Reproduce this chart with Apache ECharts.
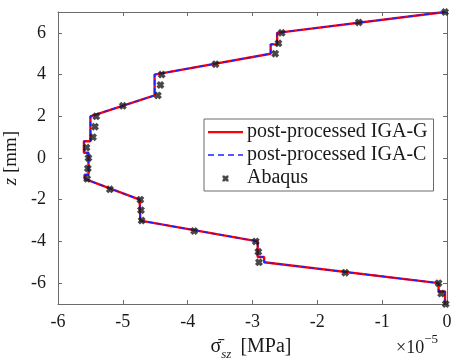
<!DOCTYPE html>
<html>
<head>
<meta charset="utf-8">
<script src="https://cdn.jsdelivr.net/npm/echarts@6/dist/echarts.min.js"></script>
<style>html,body{margin:0;padding:0;background:#fff}#c{width:454px;height:359px}</style>
</head>
<body>
<div id="c"></div>
<script>
// z positions (mm) of the IGA profile vertices
const zIGA = [7, 6, 5.45, 5.45, 5, 4, 3, 2, 0.8, 0.8, 0.25, 0.25, -0.8, -0.8, -1, -2, -3, -4, -4.75, -4.75, -5, -6, -6.4, -6.4, -7];
// sigma_sz (x 1e-5 MPa) post-processed IGA-G
const sigmaIGAG = [-0.03, -2.62, -2.62, -2.72, -2.72, -4.51, -4.51, -5.50, -5.50, -5.60, -5.60, -5.53, -5.53, -5.59, -5.59, -4.74, -4.73, -2.92, -2.92, -2.82, -2.82, -0.13, -0.13, -0.03, -0.03];
// sigma_sz (x 1e-5 MPa) post-processed IGA-C
const sigmaIGAC = [-0.03, -2.62, -2.62, -2.72, -2.72, -4.51, -4.51, -5.50, -5.50, -5.60, -5.60, -5.53, -5.53, -5.59, -5.59, -4.74, -4.73, -2.92, -2.92, -2.82, -2.82, -0.13, -0.13, -0.03, -0.03];
// Abaqus points
const zAbaqus = [7, 6.5, 6, 5.5, 5, 4.5, 4, 3.5, 3, 2.5, 2, 1.5, 1, 0.5, 0, -0.5, -1, -1.5, -2, -2.5, -3, -3.5, -4, -4.5, -5, -5.5, -6, -6.5, -7];
const sigmaAbaqus = [-0.03, -1.36, -2.55, -2.60, -2.65, -3.57, -4.40, -4.42, -4.46, -5.00, -5.41, -5.43, -5.46, -5.56, -5.53, -5.54, -5.55, -5.20, -4.73, -4.72, -4.71, -3.90, -2.95, -2.91, -2.90, -1.57, -0.13, -0.09, -0.02];
const yTicks = [-6, -4, -2, 0, 2, 4, 6];
const seriesNames = ['post-processed IGA-G', 'post-processed IGA-C', 'Abaqus'];

const pair = (xs, ys) => xs.map((x, i) => [x, ys[i]]);
const FONT = 'Liberation Serif';
const xMark = 'path://M3,0 L5,2 L7,0 L10,3 L8,5 L10,7 L7,10 L5,8 L3,10 L0,7 L2,5 L0,3 Z';
const solidIcon = 'path://M0,0L35,0Z M0,14L35,14Z M0,6h35v2.2h-35Z';
const dashIcon = 'path://M0,0L35,0Z M0,14L35,14Z M0,6.2h6v1.6h-6Z M10,6.2h6v1.6h-6Z M20,6.2h6v1.6h-6Z M30,6.2h5v1.6h-5Z';
const markIcon = 'path://M0,0L35,0Z M0,14L35,14Z M14.5,4.5 L16.5,4.5 L17.5,5.5 L18.5,4.5 L20.5,4.5 L20.5,6.5 L19.5,7.5 L20.5,8.5 L20.5,10.5 L18.5,10.5 L17.5,9.5 L16.5,10.5 L14.5,10.5 L14.5,8.5 L15.5,7.5 L14.5,6.5 Z';
const axisCol = '#6b6b6b';
const txtCol = '#1a1a1a';

const chart = echarts.init(document.getElementById('c'), null, {renderer: 'canvas'});
const baseAxis = {
  axisLine: {show: true, onZero: false, lineStyle: {color: axisCol, width: 1}},
  axisTick: {show: true, inside: true, length: 4, lineStyle: {color: axisCol, width: 1}},
  splitLine: {show: false}
};
chart.setOption({
  animation: false,
  backgroundColor: '#fff',
  grid: {left: 58, top: 12, right: 7, bottom: 55, containLabel: false, outerBoundsMode: 'none'},
  xAxis: [
    Object.assign({}, baseAxis, {
      type: 'value', min: -6, max: 0, interval: 1, position: 'bottom',
      axisLabel: {color: txtCol, fontFamily: FONT, fontSize: 18, margin: 9,
        formatter: v => (v < 0 ? '-' + Math.abs(v) : String(v))}
    }),
    Object.assign({}, baseAxis, {
      type: 'value', min: -6, max: 0, interval: 1, position: 'top',
      axisLabel: {show: false}
    })
  ],
  yAxis: [
    Object.assign({}, baseAxis, {
      type: 'value', min: -7, max: 7, position: 'left',
      axisTick: Object.assign({}, baseAxis.axisTick, {customValues: yTicks}),
      axisLabel: {color: txtCol, fontFamily: FONT, fontSize: 18, margin: 12, customValues: yTicks,
        formatter: v => (v < 0 ? '-' + Math.abs(v) : String(v))},
      name: '{z|z} {n|[mm]}', nameLocation: 'middle', nameGap: 33, nameRotate: 90,
      nameTextStyle: {color: txtCol, fontFamily: FONT, fontSize: 19,
        rich: {
          z: {fontFamily: FONT, fontSize: 19, fontStyle: 'italic', color: txtCol},
          n: {fontFamily: FONT, fontSize: 19, color: txtCol}
        }}
    }),
    Object.assign({}, baseAxis, {
      type: 'value', min: -7, max: 7, position: 'right',
      axisTick: Object.assign({}, baseAxis.axisTick, {customValues: yTicks}),
      axisLabel: {show: false}
    })
  ],
  legend: {
    orient: 'vertical', left: 204, top: 119,
    backgroundColor: '#fff', borderColor: axisCol, borderWidth: 1, borderRadius: 0,
    padding: [3, 6, 3, 4], itemGap: 3, itemWidth: 35, itemHeight: 14,
    textStyle: {fontFamily: FONT, fontSize: 20, color: txtCol, lineHeight: 20, padding: [0, 0, 0, -1]},
    data: [
      {name: seriesNames[0], icon: solidIcon, itemStyle: {color: '#ff0000'}},
      {name: seriesNames[1], icon: dashIcon, itemStyle: {color: '#1f1fff'}},
      {name: seriesNames[2], icon: markIcon, itemStyle: {color: '#1a1a1a'}}
    ]
  },
  graphic: [{
    type: 'text', x: 251, y: 347,
    style: {
      text: '{s|σ̄}{sub|sz}{n|[MPa]}', fill: txtCol, align: 'center', verticalAlign: 'middle',
      rich: {
        s: {fontFamily: FONT, fontSize: 20, fill: txtCol, lineHeight: 28, verticalAlign: 'middle'},
        sub: {fontFamily: FONT, fontSize: 13, fontStyle: 'italic', fill: txtCol, lineHeight: 28, verticalAlign: 'bottom', padding: [0, 9, 0, 0]},
        n: {fontFamily: FONT, fontSize: 20, fill: txtCol, lineHeight: 28, verticalAlign: 'middle'}
      }
    }
  }, {
    type: 'text', left: 396, top: 333,
    style: {
      text: '{a|×10}{b|−5}', fill: txtCol,
      rich: {
        a: {fontFamily: FONT, fontSize: 18, fill: txtCol, lineHeight: 24, verticalAlign: 'bottom'},
        b: {fontFamily: FONT, fontSize: 13, fill: txtCol, lineHeight: 24, verticalAlign: 'top', padding: [0, 0, 6, 0]}
      }
    }
  }],
  series: [
    {name: seriesNames[0], type: 'line', data: pair(sigmaIGAG, zIGA), symbol: 'none',
      lineStyle: {color: '#ff0000', width: 2.4}, itemStyle: {color: '#ff0000'}, z: 2},
    {name: seriesNames[1], type: 'line', data: pair(sigmaIGAC, zIGA), symbol: 'none',
      lineStyle: {color: '#1f1fff', width: 1.5, type: [5, 3]}, itemStyle: {color: '#1f1fff'}, z: 3},
    {name: seriesNames[2], type: 'scatter', data: pair(sigmaAbaqus, zAbaqus), symbol: xMark, symbolSize: 8,
      itemStyle: {color: '#1a1a1a'}, z: 4}
  ]
});
</script>
</body>
</html>
